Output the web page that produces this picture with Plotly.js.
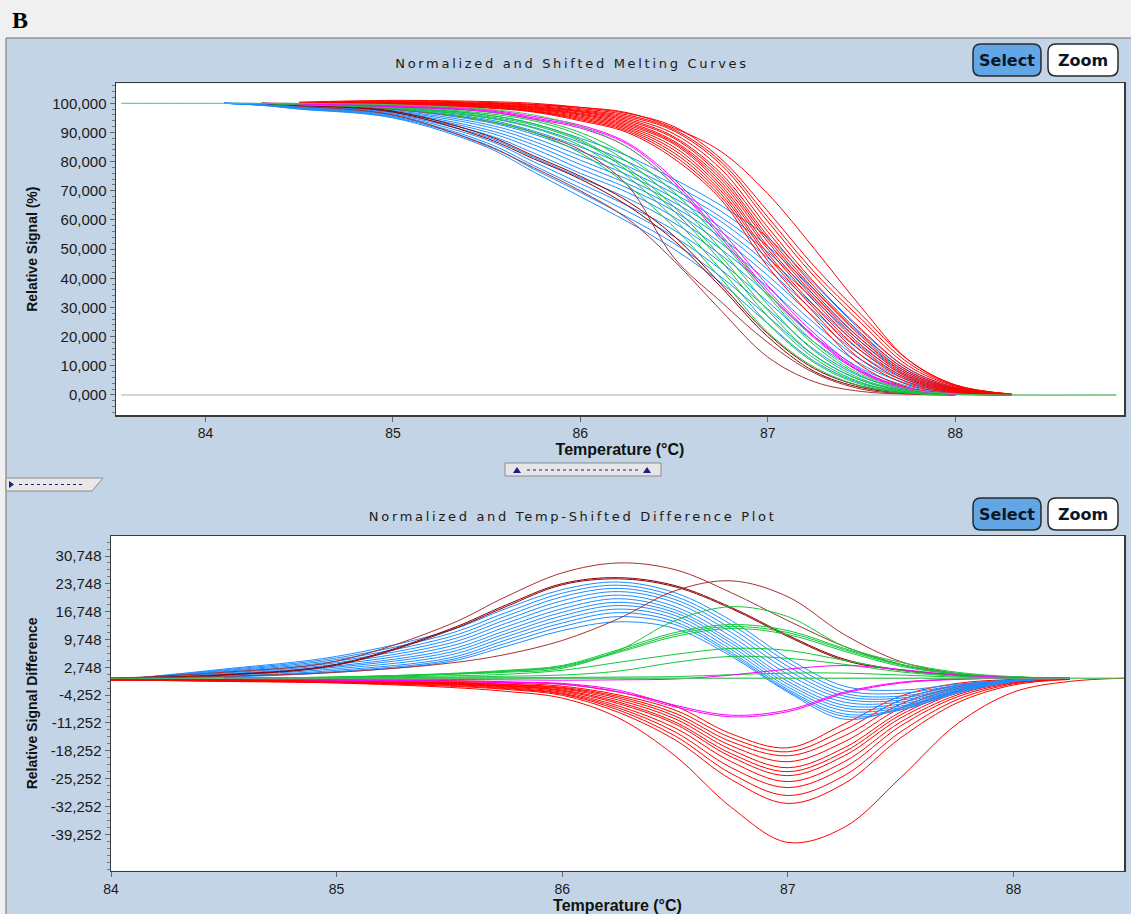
<!DOCTYPE html>
<html><head><meta charset="utf-8">
<script src="https://cdn.plot.ly/plotly-3.0.1.min.js"></script>
<style>html,body{margin:0;padding:0;background:#f0f0f0;overflow:hidden}#chart{width:1131px;height:914px}</style>
</head><body><div id="chart"></div>
<script>
// ---------- DATA ----------
// Top panel: temperature grid (°C) and melting curves (Relative Signal %)
const tempTop = [83.55, 84.1, 84.3, 84.5, 85.0, 85.5, 85.75, 86.0, 86.25, 86.5, 86.75, 87.0, 87.25, 87.5, 87.75, 88.0, 88.3, 88.86];
const redTop = [
 [null,null,null,100,100.5,100,99.6,98.6,96.8,91.5,83.5,69,50,30,12,3.4,0.3,null],
 [null,null,null,100.4,101,100.6,100,98.6,96.5,92,81,63,44,27.5,12,3.5,0.3,null],
 [null,null,null,100.2,100.8,100.3,99.6,98.2,96,91,80,61,42,26,11,3.2,0.3,null],
 [null,null,null,100,100.5,100,99.3,97.8,95.5,90.5,79,59.5,40.5,24.5,10,3,0.2,null],
 [null,null,null,100,100.3,99.8,99,97.5,95,89.5,77.5,57.5,38.5,22.5,9,2.7,0.2,null],
 [null,null,null,100,100.2,99.6,98.8,97.2,94.5,88.5,76,56,37,21,8.2,2.4,0.2,null],
 [null,null,null,100,100,99.5,98.6,97,94,88,75,54.5,36,20,7.6,2.2,0.2,null],
 [null,null,null,100,100,99.4,98.4,96.6,93.5,87,74,53.5,35,19,7,2,0.1,null],
 [null,null,null,99.8,99.9,99.3,98.2,96.3,93,86.5,73,52.5,34,18,6.5,1.8,0.1,null],
 [null,null,null,99.8,99.8,99.1,98,96,92.5,86,72,51,33,17,6,1.6,0.1,null],
 [null,null,null,99.7,99.7,99,97.8,95.6,92,85,71,50,32,16,5.5,1.4,0.1,null],
 [null,null,null,99.7,99.6,98.8,97.5,95.2,91.5,84,70,48.5,30.5,15,5,1.2,0.1,null],
 [null,null,null,99.6,99.5,98.7,97.3,94.8,91,83,69,47.5,29.5,13.5,4.3,1,0,null],
 [null,null,null,99.5,99.5,98.5,97.2,94.4,90.5,82,68,46,28,12,3.5,0.8,0,null],
 [null,null,null,99.5,99.4,98.4,97,94,90,81,67,44,26,10,2.5,0.5,0,null]
];
const blueTop = [
 [null,100,99.9,99.5,98.5,96,93,88,82,74,65,54,38,22,9,2.5,0.2,null],
 [null,100,99.9,99.4,98.2,95.2,91.8,86.5,80,72,63,51,36,20.5,8.3,2.2,0.2,null],
 [null,100,99.8,99.3,98,94.5,90.5,85,78.5,70.5,61,49,34,19,7.6,2,0.2,null],
 [null,100,99.8,99.2,97.8,93.6,89.4,83.6,77,69,59.5,47,32.5,18,7,1.8,0.1,null],
 [null,100,99.7,99.1,97.5,92.8,88.2,82,75.5,67.5,57.5,45,30.5,16.5,6.3,1.6,0.1,null],
 [null,100,99.7,99,97.2,92,87,80.5,74,66,56,43,28.5,15,5.6,1.4,0.1,null],
 [null,100,99.6,98.9,97,91,85.8,79,72.5,64.5,54,41,26.5,13.5,5,1.2,0.1,null],
 [null,100,99.6,98.8,96.7,90.2,84.5,77.5,71,63,52,39,24.5,12,4.4,1,0.1,null],
 [null,100,99.5,98.6,96.4,89.3,83,76,69.5,61,50,37,22.5,10.5,3.8,0.9,0,null],
 [null,100,99.5,98.5,96.1,88.5,81.5,74.5,67.5,59,48,34.5,20,9,3,0.7,0,null],
 [null,100,99.4,98.4,95.8,87.5,80,72.5,65,56.5,45.5,32,18,8,2.5,0.5,0,null],
 [null,100,99.4,98.2,95.5,86.5,78.7,71,63,54.3,43,29.5,15.5,6.2,1.8,0.4,0,null],
 [null,100,99.3,98.1,95.2,85.8,77.5,69.5,61,52,40.5,27,13.5,5,1.4,0.3,0,null],
 [null,100,99.3,98,95,85,76.5,68,59.5,50,38.5,24.5,11.5,4,1.1,0.2,0,null]
];
const darkRedTop = [
 [null,null,100,99,96,85.5,78,70,60.5,46,29,13,4.5,1.2,0.3,0,null,null],
 [null,null,100,99.3,97,88,81,74,65,53,37,20,8,2.5,0.6,0.1,null,null],
 [null,null,100,99.4,97.3,89,82,75,66.5,54.5,38,21,9,3,0.7,0.1,null,null],
 [null,null,100,99.6,98,94,90,84,72,47,32,18,7.5,2,0.4,0,null,null]
];
const greenTop = [
 [null,null,100,99.8,99,96.5,94,89,80,67,50,31,15,5.5,1.5,0.3,null,null],
 [null,null,100,99.7,98.8,96,93,87.5,78,64.5,47.5,29,13.5,5,1.2,0.2,null,null],
 [null,null,100,99.7,98.6,95.5,92.5,87,77,63,46,27,12.5,4.3,1,0.2,null,null],
 [null,null,100,99.6,98.5,95,91.5,85.5,75,60.5,43,24.5,11,3.6,0.8,0.1,null,null],
 [null,null,100,99.5,98.2,94,90,83,72,57.5,40,21.5,9.5,3,0.6,0.1,null,null],
 [null,null,100,99.8,99.2,97,94.5,90,82,69.5,53,34,17,6.5,1.8,0.3,null,null]
];
const magentaTop = [
 [null,null,100,99.9,99,97.5,95,92,86,73,55,36,20,8,2,0.3,null,null],
 [null,null,100,99.8,98.8,97.2,94.6,91.5,85,72,54,35,19.5,7.6,1.9,0.3,null,null],
 [null,null,100,99.9,99.2,97.8,95.5,92.5,86.5,74,56.5,37.5,21,8.5,2.2,0.3,null,null]
];
const referenceTop = [100,100,100,100,99.5,98,96,92,85,72,55,35,18,7,2,0.4,0,0];
const yTickValsTop = [0,10,20,30,40,50,60,70,80,90,100];
const yTickTextTop = ['0,000','10,000','20,000','30,000','40,000','50,000','60,000','70,000','80,000','90,000','100,000'];

// Bottom panel: temperature grid (°C) and difference curves
const tempBot = [84.0, 84.1, 84.5, 85.0, 85.5, 85.75, 86.0, 86.25, 86.5, 86.75, 87.0, 87.25, 87.5, 87.75, 88.0, 88.25, 88.49];
const redBot = [
 [-0.2,-0.2,-0.3,-0.4,-0.6,-0.9,-1.5,-3.5,-7,-14,-17.5,-11.5,-4.5,-1.3,-0.3,0,null],
 [-0.2,-0.2,-0.3,-0.5,-0.8,-1.2,-2,-4.2,-8,-15,-18.5,-13,-5.5,-1.8,-0.4,0,null],
 [-0.3,-0.3,-0.4,-0.6,-1,-1.5,-2.3,-4.6,-8.8,-16,-19.5,-14.5,-6.5,-2.2,-0.5,0,null],
 [-0.3,-0.3,-0.4,-0.6,-1.1,-1.6,-2.5,-5,-9.5,-17,-21,-16,-7.5,-2.6,-0.6,0,null],
 [-0.3,-0.3,-0.5,-0.7,-1.2,-1.8,-2.7,-5.5,-10.2,-18,-22.5,-17.5,-8.5,-3,-0.7,-0.1,null],
 [-0.3,-0.3,-0.5,-0.8,-1.3,-1.9,-3,-6,-11,-19,-23.5,-18.5,-9.2,-3.3,-0.8,-0.1,null],
 [-0.4,-0.4,-0.5,-0.8,-1.4,-2,-3.2,-6.4,-11.5,-19.8,-24.5,-19.5,-10,-3.7,-0.9,-0.1,null],
 [-0.4,-0.4,-0.6,-0.9,-1.5,-2.2,-3.5,-7,-12.5,-21,-26,-21,-11,-4.2,-1,-0.1,null],
 [-0.4,-0.4,-0.6,-1,-1.6,-2.4,-3.8,-7.5,-13.5,-22.5,-27.5,-22.5,-12,-4.7,-1.2,-0.2,null],
 [-0.5,-0.5,-0.7,-1,-1.8,-2.6,-4,-8,-14.5,-24,-29.5,-24.5,-13.5,-5.4,-1.4,-0.2,null],
 [-0.5,-0.5,-0.7,-1.1,-2,-2.8,-4.3,-8.6,-15.5,-25.5,-31.5,-26.5,-15,-6.2,-1.7,-0.3,null],
 [-0.5,-0.5,-0.8,-1.2,-2.3,-3.3,-5,-10,-19.5,-32.5,-41.3,-37.5,-25,-11.5,-3.5,-0.8,0]
];
const blueBot = [
 [null,0,2.3,5.5,12,17.5,22.3,24.2,21.5,14.5,5,-2,-3,-1.5,-0.4,0,null],
 [null,0,2.1,5.1,11.2,16.5,21.4,23.4,20.6,13.5,4,-3,-3.8,-1.8,-0.5,0,null],
 [null,0,1.9,4.7,10.4,15.6,20.5,22.6,19.8,12.5,3,-3.8,-4.5,-2,-0.5,0,null],
 [null,0,1.7,4.3,9.6,14.7,19.5,21.8,19,11.5,2,-4.5,-5,-2.3,-0.6,0,null],
 [null,0,1.5,3.9,8.8,13.8,18.5,20.9,18,10.5,1,-5.2,-5.5,-2.5,-0.6,0,null],
 [null,0,1.3,3.5,8,12.9,17.5,20,17.2,9.5,0,-6,-6,-2.7,-0.7,0,null],
 [null,0,1.1,3.1,7.2,12,16.6,19.1,16.5,8.8,-0.8,-6.8,-6.5,-3,-0.7,0,null],
 [null,0,0.9,2.8,6.5,11.2,15.7,18.3,15.8,8,-1.5,-7.5,-7,-3.2,-0.8,0,null],
 [null,0,0.7,2.4,5.8,10.4,14.8,17.4,15,7.2,-2.2,-8.2,-7.4,-3.4,-0.8,0,null],
 [null,0,0.5,2,5.1,9.6,13.9,16.5,14.2,6.5,-2.8,-9,-7.8,-3.6,-0.8,0,null],
 [null,0,0.4,1.7,4.6,8.8,13,15.5,13.5,6,-3.2,-9.6,-8,-3.8,-0.8,0,null],
 [null,0,0.3,1.5,4.2,8,12,14.2,12.5,5.5,-3.5,-10.3,-7.5,-3,-0.6,0,null]
];
const darkRedBot = [
 [0,0.2,1.5,4.3,13.5,20.5,26.5,29,27.3,21.5,14.5,8,3.5,1,0.3,0,null],
 [0,0.1,0.8,3.3,12,18,23.5,25,23,17.5,10.5,4.5,2,0.8,0.2,0,null],
 [0,0.1,0.9,3.5,12.3,18.4,23.8,25.3,23.3,17.8,10.8,4.8,2.1,0.8,0.2,0,null],
 [0,0.1,0.5,1.5,3.8,6,9.5,15,22,24.5,20.5,11,4.2,1.2,0.3,0,null]
];
const greenBot = [
 [null,null,0,0.3,1,1.5,2.5,7,14.5,18,15.5,8,4,1.5,0.4,0,null],
 [null,null,0,0.3,1.2,2,3.2,7.2,11.5,13.5,12,7.5,3.5,1.2,0.3,0,null],
 [null,null,0,0.3,1.1,1.8,3,6.8,11,13,11.5,7.2,3.3,1.1,0.3,0,null],
 [null,null,0,0.2,1,1.7,2.8,6.5,10.5,12.5,11,6.8,3,1,0.3,0,null],
 [null,null,0,0.2,0.6,1,2,4,6,7.5,7,4.5,2,0.7,0.2,0,null],
 [null,null,0,0.1,0.3,0.5,0.8,1.8,4,5.5,5,3.5,1.6,0.5,0.1,0,null],
 [null,null,0,0,0.1,0.1,0.2,0.3,0.4,0.9,1.3,1.3,0.8,0.3,0.1,0,null]
];
const magentaBot = [
 [null,null,0,-0.4,-0.7,-1,-1.3,-3,-6.8,-9.3,-8,-3.5,-1,-0.2,0,0,null],
 [null,null,0,-0.5,-0.8,-1.1,-1.5,-3.4,-7.2,-9.7,-8.4,-3.8,-1.2,-0.3,0,0,null],
 [null,null,0,-0.2,-0.3,-0.4,-0.5,-0.4,-0.2,0.8,2.3,3.2,2.2,0.8,0.2,0,null]
];
const referenceBot = [0,0,0,0,0,0,0,0,0,0,0,0,0,0,0,0,0];
const yTickValsBot = [30.748,23.748,16.748,9.748,2.748,-4.252,-11.252,-18.252,-25.252,-32.252,-39.252];
const yTickTextBot = ['30,748','23,748','16,748','9,748','2,748','-4,252','-11,252','-18,252','-25,252','-32,252','-39,252'];
const xTickVals = [84,85,86,87,88];

// ---------- STYLE ----------
const W = 1131, H = 914;
const C = {red:'#ff0000', blue:'#1e8cff', dkred:'#8b0000', dkred2:'#a83030', green:'#12c83a', magenta:'#ff00ff', ref:'#3fcc55', grey:'#a8a8a8'};
const px = v => v / W, py = v => 1 - v / H;

function line(x, y, color, ax, w) {
  return {type:'scatter', mode:'lines', x:x, y:y, xaxis:ax[0], yaxis:ax[1],
    line:{color:color, width:w||1, shape:'spline', smoothing:1}, hoverinfo:'skip', connectgaps:false, showlegend:false};
}
const A1 = ['x','y'], A2 = ['x2','y2'];
const traces = [];
traces.push(line([tempTop[0], tempTop[tempTop.length-1]], [0,0], C.grey, A1));
blueTop.forEach(s => traces.push(line(tempTop, s, C.blue, A1)));
darkRedTop.forEach((s,i) => traces.push(line(tempTop, s, (i===1||i===2)?C.dkred:C.dkred2, A1)));
redTop.forEach(s => traces.push(line(tempTop, s, C.red, A1)));
greenTop.forEach(s => traces.push(line(tempTop, s, C.green, A1)));
magentaTop.forEach(s => traces.push(line(tempTop, s, C.magenta, A1)));
traces.push(line(tempTop, referenceTop, C.ref, A1));

traces.push(line([tempBot[0], tempBot[tempBot.length-1]], [0,0], C.grey, A2));
redBot.forEach(s => traces.push(line(tempBot, s, C.red, A2)));
blueBot.forEach(s => traces.push(line(tempBot, s, C.blue, A2)));
darkRedBot.forEach((s,i) => traces.push(line(tempBot, s, (i===1||i===2)?C.dkred:C.dkred2, A2)));
greenBot.forEach(s => traces.push(line(tempBot, s, C.green, A2)));
magentaBot.forEach(s => traces.push(line(tempBot, s, C.magenta, A2)));
traces.push(line(tempBot, referenceBot, C.ref, A2));

const sans = 'Liberation Sans, Arial, sans-serif';
const frame = {showline:true, mirror:true, linecolor:'#3a3a3a', linewidth:1.5, showgrid:false, zeroline:false,
  ticks:'outside', ticklen:5, tickcolor:'#666', tickwidth:1, fixedrange:true};

function rrect(x0,y0,x1,y1,r){
  const X=v=>px(v).toFixed(5), Y=v=>py(v).toFixed(5);
  return `M${X(x0+r)},${Y(y0)} L${X(x1-r)},${Y(y0)} Q${X(x1)},${Y(y0)} ${X(x1)},${Y(y0+r)} L${X(x1)},${Y(y1-r)} Q${X(x1)},${Y(y1)} ${X(x1-r)},${Y(y1)} L${X(x0+r)},${Y(y1)} Q${X(x0)},${Y(y1)} ${X(x0)},${Y(y1-r)} L${X(x0)},${Y(y0+r)} Q${X(x0)},${Y(y0)} ${X(x0+r)},${Y(y0)} Z`;
}
function poly(pts){ return 'M' + pts.map(p => px(p[0]).toFixed(5)+','+py(p[1]).toFixed(5)).join(' L') + ' Z'; }
const P = {xref:'paper', yref:'paper'};
const shapes = [
  Object.assign({type:'rect', x0:0, x1:1, y0:py(38), y1:1, fillcolor:'#f0f0f0', line:{width:0}, layer:'below'}, P),
  Object.assign({type:'rect', x0:0, x1:px(6), y0:0, y1:1, fillcolor:'#f0f0f0', line:{width:0}, layer:'below'}, P),
  Object.assign({type:'line', x0:px(6), x1:px(6), y0:0, y1:py(38), line:{color:'#707070', width:1}}, P),
  Object.assign({type:'line', x0:px(6), x1:1, y0:py(38), y1:py(38), line:{color:'#707070', width:1}}, P),
  // buttons
  Object.assign({type:'path', path:rrect(973,44,1041,76,8), fillcolor:'#62a6e6', line:{color:'#2a2a2a', width:1.5}}, P),
  Object.assign({type:'path', path:rrect(1048,44,1118,76,8), fillcolor:'#ffffff', line:{color:'#2a2a2a', width:1.5}}, P),
  Object.assign({type:'path', path:rrect(973,498,1041,530,8), fillcolor:'#62a6e6', line:{color:'#2a2a2a', width:1.5}}, P),
  Object.assign({type:'path', path:rrect(1048,498,1118,530,8), fillcolor:'#ffffff', line:{color:'#2a2a2a', width:1.5}}, P),
  // splitter
  Object.assign({type:'rect', x0:px(505), x1:px(661), y0:py(476), y1:py(463), fillcolor:'#e6e6e6', line:{color:'#8c8c8c', width:1}}, P),
  Object.assign({type:'line', x0:px(527), x1:px(640), y0:py(470), y1:py(470), line:{color:'#1c1c8a', width:1.2, dash:'dot'}}, P),
  Object.assign({type:'path', path:poly([[513,473],[521,473],[517,467]]), fillcolor:'#1c1c8a', line:{width:0}}, P),
  Object.assign({type:'path', path:poly([[643,473],[651,473],[647,467]]), fillcolor:'#1c1c8a', line:{width:0}}, P),
  // left tab
  Object.assign({type:'path', path:poly([[6,478],[103,478],[92,491],[6,491]]), fillcolor:'#e8e8e8', line:{color:'#8c8c8c', width:1}}, P),
  Object.assign({type:'path', path:poly([[9,481],[14,484.5],[9,488]]), fillcolor:'#1c1c8a', line:{width:0}}, P),
  Object.assign({type:'line', x0:px(19), x1:px(84), y0:py(484.5), y1:py(484.5), line:{color:'#1c1c8a', width:1.2, dash:'dot'}}, P)
];
const btnFont = {family:'DejaVu Sans, sans-serif', size:16, color:'#0b1626', weight:'bold'};
const titleFont = {family:'DejaVu Sans, sans-serif', size:13, color:'#1a1a1a'};
const annotations = [
  Object.assign({x:px(10), y:py(20), xanchor:'left', yanchor:'middle', text:'B', showarrow:false,
    font:{family:'Liberation Serif, Times New Roman, serif', size:24, color:'#000', weight:'bold'}}, P),
  Object.assign({x:px(572), y:py(516), xanchor:'center', yanchor:'middle', text:'Normalized and Temp-Shifted Difference Plot', showarrow:false, font:titleFont}, P),
  Object.assign({x:px(1007), y:py(60), xanchor:'center', yanchor:'middle', text:'Select', showarrow:false, font:btnFont}, P),
  Object.assign({x:px(1083), y:py(60), xanchor:'center', yanchor:'middle', text:'Zoom', showarrow:false, font:btnFont}, P),
  Object.assign({x:px(1007), y:py(514), xanchor:'center', yanchor:'middle', text:'Select', showarrow:false, font:btnFont}, P),
  Object.assign({x:px(1083), y:py(514), xanchor:'center', yanchor:'middle', text:'Zoom', showarrow:false, font:btnFont}, P)
];

const xTitleFont = {family:sans, size:16, color:'#111', weight:'bold'};
const xTickFont = {family:sans, size:14, color:'#1a1a1a'};
const layout = {
  width:W, height:H, margin:{l:0,r:0,t:0,b:0}, paper_bgcolor:'#c2d4e5', plot_bgcolor:'#ffffff', showlegend:false,
  hovermode:false,
  title:{text:'Normalized and Shifted Melting Curves', x:px(572), y:py(63), xref:'paper', yref:'paper', xanchor:'center', yanchor:'middle', font:titleFont},
  xaxis: Object.assign({}, frame, {domain:[px(116), px(1124)], range:[83.522, 88.901], anchor:'y',
    tickmode:'array', tickvals:xTickVals, tickfont:xTickFont,
    title:{text:'Temperature (°C)', font:xTitleFont, standoff:1}}),
  yaxis: Object.assign({}, frame, {domain:[py(415), py(83.3)], range:[-6.86, 106.86], anchor:'x',
    tickmode:'array', tickvals:yTickValsTop, ticktext:yTickTextTop, tickfont:{family:sans, size:15, color:'#1a1a1a'},
    minor:{tickmode:'linear', tick0:0, dtick:2, ticks:'outside', ticklen:3, tickcolor:'#777'},
    title:{text:'Relative Signal (%)', font:{family:sans, size:14, color:'#111', weight:'bold'}, standoff:11}}),
  xaxis2: Object.assign({}, frame, {domain:[px(111), px(1124)], range:[84, 88.49], anchor:'y2',
    tickmode:'array', tickvals:xTickVals, tickfont:xTickFont,
    title:{text:'Temperature (°C)', font:xTitleFont, standoff:1}}),
  yaxis2: Object.assign({}, frame, {domain:[py(870.7), py(536)], range:[-48.41, 35.78], anchor:'x2',
    tickmode:'array', tickvals:yTickValsBot, ticktext:yTickTextBot, tickfont:{family:sans, size:15, color:'#1a1a1a'},
    minor:{tickmode:'linear', tick0:30.748, dtick:1.75, ticks:'outside', ticklen:3, tickcolor:'#777'},
    title:{text:'Relative Signal Difference', font:{family:sans, size:14, color:'#111', weight:'bold'}, standoff:9}}),
  shapes:shapes, annotations:annotations
};

Plotly.newPlot('chart', traces, layout, {staticPlot:true, displayModeBar:false}).then(gd => {
  gd.querySelectorAll('text').forEach(t => {
    if (t.textContent.indexOf('Normalized') === 0) t.style.letterSpacing = '2.7px';
  });
});
</script>
</body></html>
